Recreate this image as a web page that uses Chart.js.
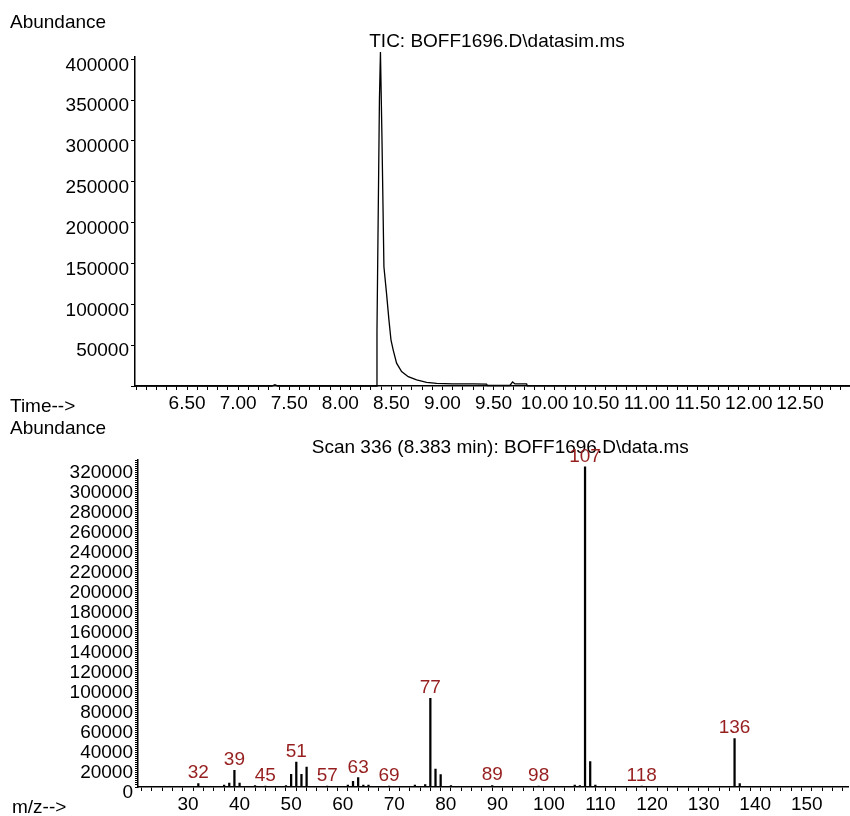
<!DOCTYPE html>
<html>
<head>
<meta charset="utf-8">
<script src="https://cdn.jsdelivr.net/npm/chart.js@4.4.1/dist/chart.umd.min.js"></script>
<style>
  html, body { margin: 0; padding: 0; background: #fff; }
  body { width: 850px; height: 816px; position: relative; overflow: hidden;
         font-family: "Liberation Sans", Arial, sans-serif; }
  canvas { position: absolute; left: 0; }
  #tic { top: 0; }
  #spec { top: 416px; }
  .lbl { position: absolute; font-size: 19px; line-height: 19px; color: #000; white-space: nowrap; z-index: 2; }
</style>
</head>
<body>
<div class="lbl" style="left:10px;top:12px">Abundance</div>
<div class="lbl" style="left:10px;top:396px">Time--&gt;</div>
<div class="lbl" style="left:10px;top:418px">Abundance</div>
<div class="lbl" style="left:12px;top:797px">m/z--&gt;</div>
<canvas id="tic" width="850" height="420"></canvas>
<canvas id="spec" width="850" height="400"></canvas>
<script>
// Total ion chromatogram (retention time in min, abundance)
const ticTime = [5.99, 7.330, 7.360, 7.390, 8.354, 8.359, 8.383, 8.393, 8.408, 8.427,
                 8.452, 8.476, 8.496, 8.518, 8.551, 8.600, 8.665, 8.747, 8.845, 8.943,
                 9.100, 9.300, 9.432, 9.440, 9.660, 9.687, 9.710, 9.824, 9.830, 12.99];
const ticAbundance = [0, 0, 1500, 0, 0, 68000, 350000, 409000, 302000, 146000,
                      114000, 81000, 56500, 44000, 28000, 17600, 11400, 7400, 4500, 3300,
                      2700, 2500, 2400, 600, 600, 5000, 2600, 2500, 300, 0];

// Mass spectrum of scan 336
const mzValues    = [32, 37, 38, 39, 40, 43, 45, 49, 50, 51, 52, 53, 57, 61, 62, 63, 64, 65,
                     69, 74, 76, 77, 78, 79, 81, 89, 98, 105, 106, 107, 108, 109, 118, 136, 137];
const mzAbundance = [3500, 2000, 3800, 16600, 3800, 1500, 1000, 1500, 12600, 25000, 12600, 20000,
                     1000, 2000, 5600, 9300, 2000, 2000, 1000, 2000, 2500, 88500, 18000, 12500,
                     1500, 1500, 1000, 2000, 1500, 320000, 25300, 2000, 1000, 48500, 3500];
const mzLabelled  = [32, 39, 45, 51, 57, 63, 69, 77, 89, 98, 107, 118, 136];

// Axis tick labels
const ticTimeLabels = ['6.50', '7.00', '7.50', '8.00', '8.50', '9.00', '9.50', '10.00',
                       '10.50', '11.00', '11.50', '12.00', '12.50'];
const ticYLabels = ['50000', '100000', '150000', '200000', '250000', '300000', '350000', '400000'];
const mzXLabels = ['30', '40', '50', '60', '70', '80', '90', '100', '110', '120', '130', '140', '150'];
const mzYLabels = ['0', '20000', '40000', '60000', '80000', '100000', '120000', '140000', '160000',
                   '180000', '200000', '220000', '240000', '260000', '280000', '300000', '320000'];

const FONT = { family: '"Liberation Sans", Arial, sans-serif', size: 19 };
const INK = '#000';
const PEAK_RED = '#961e1e';

function ticksFrom(start, stop, step) {
  const out = [];
  for (let k = Math.round(start / step); k * step <= stop + 1e-9; k++) {
    out.push({ value: +(k * step).toFixed(4) });
  }
  return out;
}
function labelFor(list, v) {
  return list.find(s => Math.abs(parseFloat(s) - v) < 1e-6) || '';
}

function axisCommon(tickLen) {
  return {
    grid: { drawOnChartArea: false, drawTicks: true, tickLength: tickLen, color: INK, lineWidth: 1 },
    border: { display: true, color: INK, width: 1.5 },
  };
}

// Draws the title line and the m/z labels above the spectrum peaks
const overlay = {
  id: 'overlay',
  afterDatasetsDraw(chart, args, opts) {
    const ctx = chart.ctx, a = chart.chartArea;
    ctx.save();
    ctx.font = FONT.size + 'px ' + FONT.family;
    ctx.fillStyle = INK;
    ctx.textAlign = 'center';
    ctx.textBaseline = 'middle';
    ctx.fillText(opts.text, (a.left + a.right) / 2 + opts.dx, opts.y);
    if (opts.labels) {
      const xs = chart.scales.x, ys = chart.scales.y;
      ctx.fillStyle = PEAK_RED;
      ctx.textBaseline = 'alphabetic';
      opts.labels.forEach(mz => {
        const i = mzValues.indexOf(mz);
        const px = xs.getPixelForValue(mz);
        const py = ys.getPixelForValue(mzAbundance[i]);
        ctx.fillText(String(mz), px, py - 5);
      });
    }
    ctx.restore();
  }
};

Chart.defaults.font.family = FONT.family;
Chart.defaults.color = INK;

// Chromatogram
new Chart(document.getElementById('tic'), {
  type: 'line',
  data: {
    datasets: [{
      data: ticTime.map((t, i) => ({ x: t, y: ticAbundance[i] })),
      borderColor: INK,
      borderWidth: 1.3,
      pointRadius: 0,
      tension: 0,
      fill: false,
      clip: false,
    }]
  },
  options: {
    responsive: false,
    animation: false,
    devicePixelRatio: 1,
    layout: { padding: { top: 57, right: 0, left: 0, bottom: 0 } },
    plugins: {
      legend: { display: false },
      tooltip: { enabled: false },
      overlay: { text: 'TIC: BOFF1696.D\\datasim.ms', dx: 4.5, y: 42 },
    },
    scales: {
      x: Object.assign(axisCommon(4), {
        type: 'linear', min: 5.99, max: 12.99,
        afterBuildTicks: s => { s.ticks = ticksFrom(6.0, 12.9, 0.1); },
        afterFit: s => { s.height = 34; },
        ticks: { autoSkip: false, maxRotation: 0, padding: 2, font: FONT, color: INK,
                 callback: v => labelFor(ticTimeLabels, v) },
      }),
      y: Object.assign(axisCommon(4), {
        type: 'linear', min: 0, max: 402800,
        afterBuildTicks: s => { s.ticks = ticksFrom(0, 400000, 50000); },
        afterFit: s => { s.width = 135; },
        ticks: { autoSkip: false, padding: 2, labelOffset: 6, font: FONT, color: INK,
                 callback: v => labelFor(ticYLabels, v) },
      }),
    }
  },
  plugins: [overlay]
});

// Mass spectrum
new Chart(document.getElementById('spec'), {
  type: 'bar',
  data: {
    datasets: [{
      data: mzValues.map((m, i) => ({ x: m, y: mzAbundance[i] })),
      backgroundColor: INK,
      borderWidth: 0,
      barThickness: 1.6,
      grouped: false,
    }]
  },
  options: {
    responsive: false,
    animation: false,
    devicePixelRatio: 1,
    layout: { padding: { top: 44, right: 0, left: 0, bottom: 0 } },
    plugins: {
      legend: { display: false },
      tooltip: { enabled: false },
      overlay: { text: 'Scan 336 (8.383 min): BOFF1696.D\\data.ms', dx: 7, y: 32, labels: mzLabelled },
    },
    scales: {
      x: Object.assign(axisCommon(4), {
        type: 'linear', min: 20.3, max: 158.1, offset: false,
        afterBuildTicks: s => { s.ticks = ticksFrom(22, 158, 2); },
        afterFit: s => { s.height = 29; },
        ticks: { autoSkip: false, maxRotation: 0, padding: 2, font: FONT, color: INK,
                 callback: v => labelFor(mzXLabels, v) },
      }),
      y: Object.assign(axisCommon(3), {
        type: 'linear', min: 0, max: 326700,
        afterBuildTicks: s => { s.ticks = ticksFrom(0, 326000, 2000); },
        afterFit: s => { s.width = 138; },
        ticks: { autoSkip: false, padding: 2, labelOffset: 6, font: FONT, color: INK,
                 callback: v => labelFor(mzYLabels, v) },
      }),
    }
  },
  plugins: [overlay]
});
</script>
</body>
</html>
